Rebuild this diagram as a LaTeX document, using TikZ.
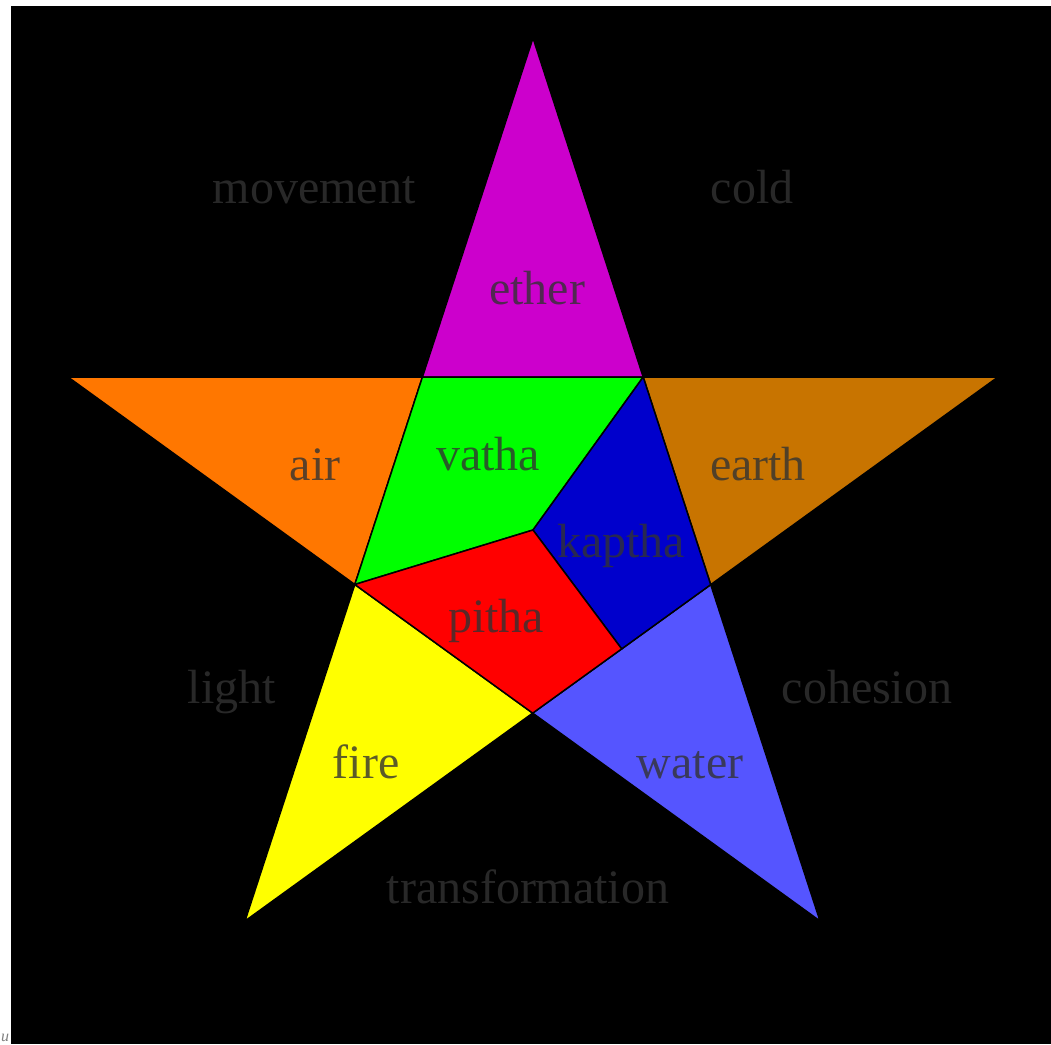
\documentclass[tikz,border=0pt]{standalone}
\usepackage{fontspec}
\setmainfont{Liberation Serif}
\usetikzlibrary{calc}

\definecolor{etherC}{HTML}{CC00CC}
\definecolor{airC}{HTML}{FF7700}
\definecolor{earthC}{HTML}{C87400}
\definecolor{fireC}{HTML}{FFFF00}
\definecolor{waterC}{HTML}{5555FF}
\definecolor{vathaC}{HTML}{00FF00}
\definecolor{kapthaC}{HTML}{0000CC}
\definecolor{pithaC}{HTML}{FF0000}

\begin{document}
\begin{tikzpicture}[x=1pt,y=-1pt,
  part/.style={draw=black,line width=1.5pt,line join=miter},
  lbl/.style={anchor=base,inner sep=0pt,font=\fontsize{48}{58}\selectfont,text=black!80,text opacity=0.8}
]
  \useasboundingbox (0,0) rectangle (1051,1044);
  \fill[black] (11,6) rectangle (1051,1044);
  % star points
  \coordinate (pTop)   at (533,38);
  \coordinate (pLeft)  at (68,377);
  \coordinate (pRight) at (998,377);
  \coordinate (pBl)    at (245,921);
  \coordinate (pBr)    at (820,921);
  % inner pentagon
  \coordinate (iTl) at (intersection of pTop--pBl and pLeft--pRight);
  \coordinate (iTr) at (intersection of pTop--pBr and pLeft--pRight);
  \coordinate (iL)  at (intersection of pTop--pBl and pLeft--pBr);
  \coordinate (iR)  at (intersection of pTop--pBr and pRight--pBl);
  \coordinate (iB)  at (intersection of pLeft--pBr and pRight--pBl);
  \coordinate (iC)  at (533,530);
  \coordinate (iM)  at ($(iR)!0.5!(iB)$);
  % outer triangles
  \filldraw[part,fill=etherC] (pTop) -- (iTl) -- (iTr) -- cycle;
  \filldraw[part,fill=airC]   (pLeft) -- (iTl) -- (iL) -- cycle;
  \filldraw[part,fill=earthC] (pRight) -- (iTr) -- (iR) -- cycle;
  \filldraw[part,fill=fireC]  (pBl) -- (iL) -- (iB) -- cycle;
  \filldraw[part,fill=waterC] (pBr) -- (iR) -- (iB) -- cycle;
  % doshas
  \filldraw[part,fill=vathaC]  (iTl) -- (iTr) -- (iC) -- (iL) -- cycle;
  \filldraw[part,fill=kapthaC] (iTr) -- (iR) -- (iM) -- (iC) -- cycle;
  \filldraw[part,fill=pithaC]  (iL) -- (iC) -- (iM) -- (iB) -- cycle;
  % labels
  \node[lbl] (movement) at (314,203) {movement};
  \node[lbl] (cold) at (752,203) {cold};
  \node[lbl] (ether) at (537,304) {ether};
  \node[lbl] (air) at (315,480) {air};
  \node[lbl] (vatha) at (488,470) {vatha};
  \node[lbl] (earth) at (758,480) {earth};
  \node[lbl] (kaptha) at (621,557) {kaptha};
  \node[lbl] (pitha) at (496,632) {pitha};
  \node[lbl] (light) at (232,703) {light};
  \node[lbl] (cohesion) at (867,703) {cohesion};
  \node[lbl] (fire) at (366,778) {fire};
  \node[lbl] (water) at (690,778) {water};
  \node[lbl] (transformation) at (528,903) {transformation};
  \node[anchor=base west,inner sep=0pt,font=\fontsize{16}{19}\selectfont\itshape,text=gray] (cut) at (1,1041) {u};
\end{tikzpicture}
\end{document}
